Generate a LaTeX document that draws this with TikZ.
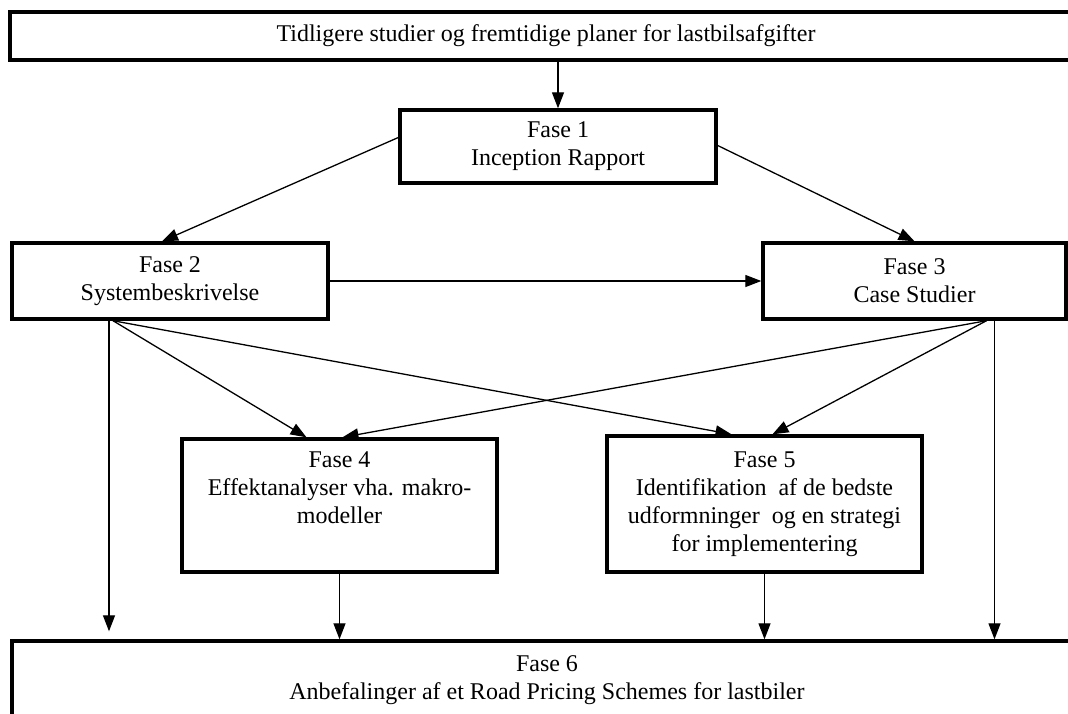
\documentclass[tikz,border=0pt]{standalone}
\usepackage{fontspec}
\setmainfont{Liberation Serif}
\usetikzlibrary{arrows.meta,calc}
\begin{document}
\begin{tikzpicture}[x=1pt,y=-1pt,
  box/.style={draw, line width=3.4pt, align=center, inner sep=0pt, font=\fontsize{24}{28}\selectfont},
  conn/.style={line width=1.3pt},
  arr/.style={conn, -{Triangle[length=16pt,width=12pt]}}]
\useasboundingbox (0,0) rectangle (1068,713);
\node[box, minimum width=1072, minimum height=48] (top) at (546,36) {\raisebox{-4pt}{Tidligere studier og fremtidige planer for lastbilsafgifter}};
\node[box, minimum width=316, minimum height=73] (f1) at (558,146.5) {Fase 1\\Inception Rapport};
\node[box, minimum width=316, minimum height=76] (f2) at (170,281) {Fase 2\\Systembeskrivelse};
\node[box, minimum width=303, minimum height=76] (f3) at (914.5,281) {Fase 3\\Case Studier};
\node[box, minimum width=315, minimum height=133] (f4) at (339.5,505.5) {Fase 4\\Effektanalyser vha. makro-\\modeller\\\strut};
\node[box, minimum width=315, minimum height=136] (f5) at (764.5,504) {Fase 5\\Identifikation\ \ af de bedste\\udformninger\ \ og en strategi\\for implementering};
\node[box, minimum width=1070, minimum height=78] (f6) at (547,680) {Fase 6\\Anbefalinger af et Road Pricing Schemes for lastbiler};

\draw[arr] (top.south -| f1.north) -- (f1.north);
\draw[arr] ([yshift=9pt]f1.west) -- ([xshift=-8pt]f2.north);
\draw[arr] ([yshift=1pt]f1.east) -- (f3.north);
\draw[arr] (f2.east) -- (f3.west);

\coordinate (c2) at ([xshift=-57pt]f2.south);
\coordinate (v2) at ([xshift=-61pt]f2.south);
\coordinate (e2) at ([yshift=8pt]v2 |- f6.north);
\draw[arr] (v2) -- (e2);
\draw[arr] (c2) -- ([xshift=-33pt]f4.north);
\draw[arr] (c2) -- ([xshift=-33pt]f5.north);

\coordinate (c3) at ([xshift=72pt]f3.south);
\coordinate (v3) at ([xshift=80pt]f3.south);
\draw[arr] (v3) -- (v3 |- f6.north);
\draw[arr] (c3) -- ([xshift=3pt]f4.north);
\draw[arr] (c3) -- ([xshift=8pt]f5.north);

\draw[arr] (f4.south) -- (f4.south |- f6.north);
\draw[arr] (f5.south) -- (f5.south |- f6.north);
\end{tikzpicture}
\end{document}
